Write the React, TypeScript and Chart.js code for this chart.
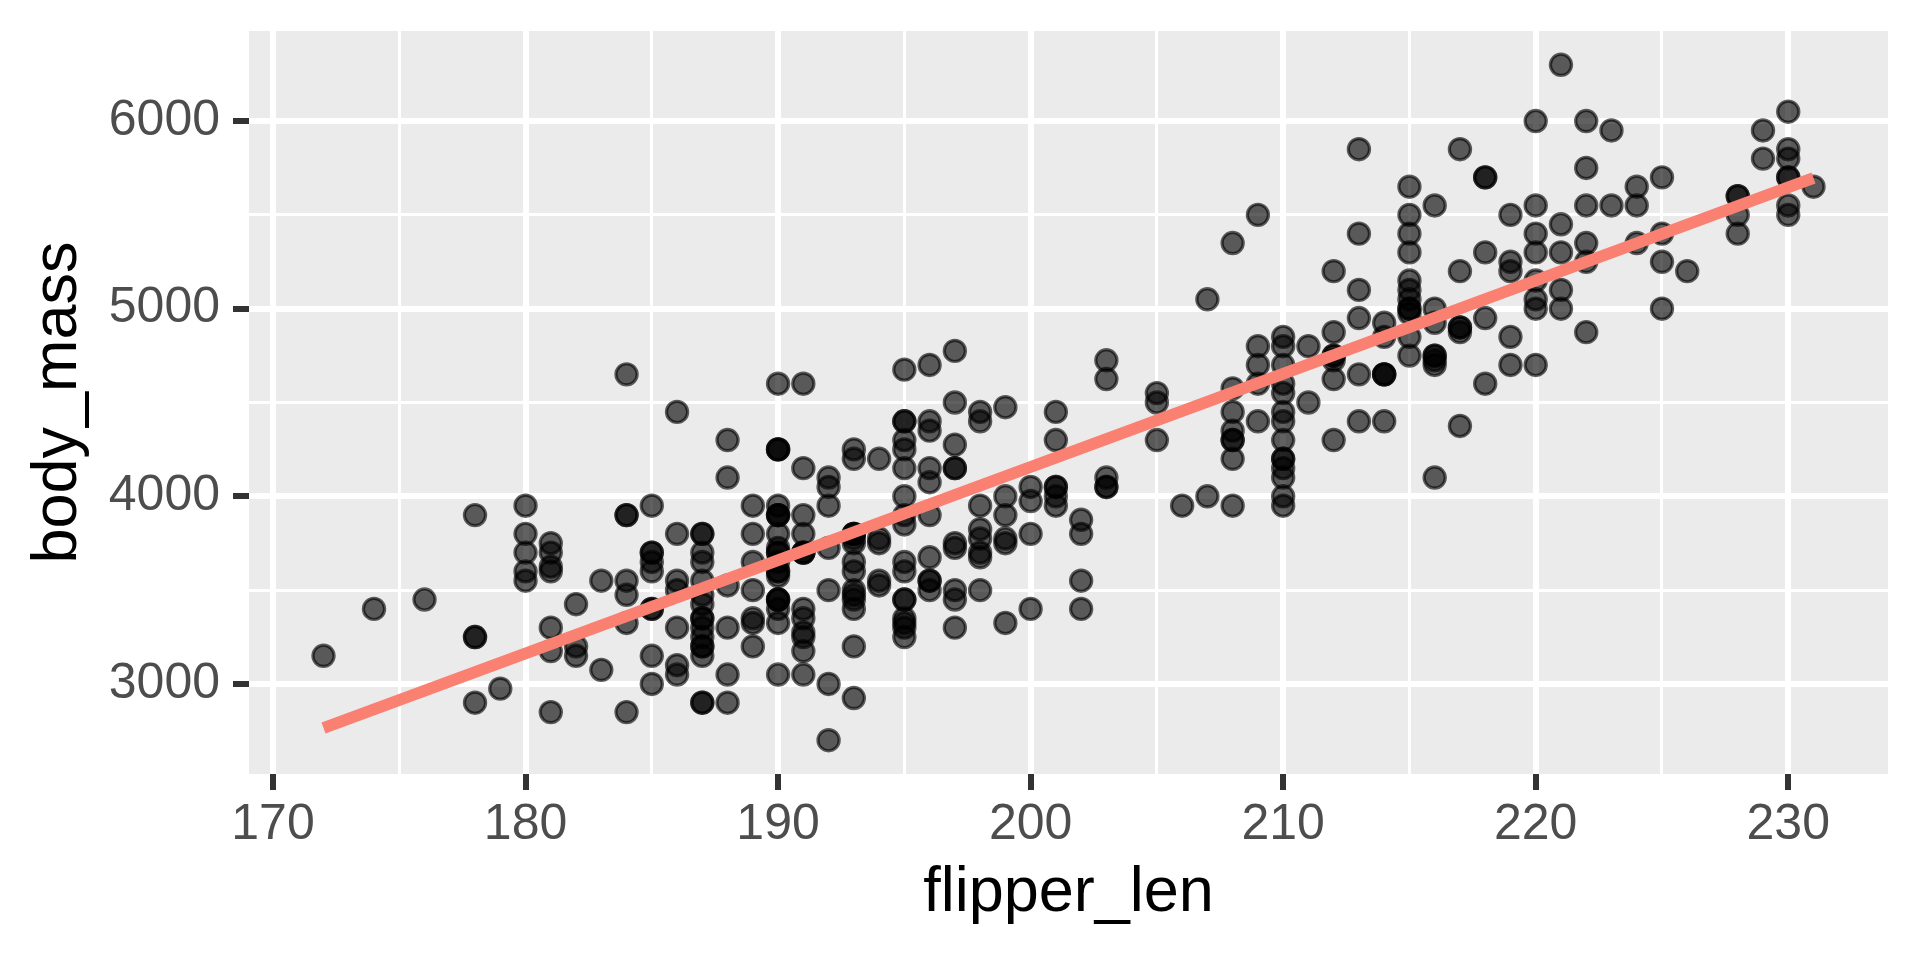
import React, { useEffect, useRef } from "react";
import { Chart, registerables } from "chart.js";

Chart.register(...registerables);

// ---- Data (flipper length in mm, body mass in g) ----
const ADELIE_FLIPPER = [
  181, 186, 195, 193, 190, 181, 195, 193, 190, 186, 180, 182, 191, 198, 185, 195, 197, 184, 194,
  174, 180, 189, 185, 180, 187, 183, 187, 172, 180, 178, 178, 188, 184, 195, 196, 190, 180, 181,
  184, 182, 195, 186, 196, 185, 190, 182, 179, 190, 191, 186, 188, 190, 200, 187, 191, 186, 193,
  181, 194, 185, 195, 185, 192, 184, 192, 195, 188, 190, 198, 190, 190, 196, 197, 190, 195, 191,
  184, 187, 195, 189, 196, 187, 193, 191, 194, 190, 189, 189, 190, 202, 205, 185, 186, 187, 208,
  190, 196, 178, 192, 192, 203, 183, 190, 193, 184, 199, 190, 181, 197, 198, 191, 193, 197, 191,
  196, 188, 199, 189, 189, 187, 198, 176, 202, 186, 199, 191, 195, 191, 210, 190, 197, 193, 199,
  187, 190, 191, 200, 185, 193, 193, 187, 188, 190, 192, 185, 190, 184, 195, 193, 187, 201,
];
const ADELIE_MASS = [
  3750, 3800, 3250, 3450, 3650, 3625, 4675, 3475, 4250, 3300, 3700, 3200, 3800, 4400, 3700, 3450, 4500, 3325, 4200,
  3400, 3600, 3800, 3950, 3800, 3800, 3550, 3200, 3150, 3950, 3250, 3900, 3300, 3900, 3325, 4150, 3950, 3550, 3300,
  4650, 3150, 3900, 3100, 4400, 3000, 4600, 3425, 2975, 3450, 4150, 3500, 4300, 3450, 4050, 2900, 3700, 3550, 3800,
  2850, 3750, 3150, 4400, 3600, 4050, 2850, 3950, 3350, 4100, 3050, 4450, 3600, 3900, 3550, 4150, 3700, 4250, 3700,
  3900, 3550, 4000, 3200, 4700, 3800, 4200, 3350, 3550, 3800, 3500, 3950, 3600, 3550, 4300, 3400, 4450, 3300, 4300,
  3700, 4350, 2900, 4100, 3725, 4725, 3075, 4250, 2925, 3550, 3750, 3900, 3175, 4775, 3825, 4600, 3200, 4275, 3900,
  4075, 2900, 3775, 3350, 3325, 3150, 3500, 3450, 3875, 3050, 4000, 3275, 4300, 3050, 4000, 3325, 3500, 3500, 4475,
  3425, 3900, 3175, 3975, 3400, 4250, 3400, 3475, 3050, 3725, 3000, 3650, 4250, 3475, 3450, 3750, 3700, 4000,
];

const GENTOO_FLIPPER = [
  211, 230, 210, 218, 215, 210, 211, 219, 209, 215, 214, 216, 214, 213, 210, 217, 210, 221, 209, 222,
  218, 215, 213, 215, 215, 215, 216, 215, 210, 220, 222, 209, 207, 230, 220, 220, 213, 219, 208, 208,
  208, 225, 210, 216, 222, 217, 210, 225, 213, 215, 210, 220, 210, 225, 217, 220, 208, 220, 208, 224,
  208, 221, 214, 231, 219, 230, 214, 229, 220, 223, 216, 221, 221, 217, 216, 230, 209, 220, 215, 223,
  212, 221, 212, 224, 212, 228, 218, 218, 212, 230, 218, 228, 212, 224, 214, 226, 216, 222, 203, 225,
  219, 228, 215, 228, 216, 215, 210, 219, 208, 209, 216, 229, 213, 230, 217, 230, 217, 222, 214, 215,
  222, 212, 213,
];
const GENTOO_MASS = [
  4500, 5700, 4450, 5700, 5400, 4550, 4800, 5200, 4400, 5150, 4650, 5550, 4650, 5850, 4200, 5850, 4150, 6300, 4800, 5350,
  5700, 5000, 4400, 5050, 5000, 5100, 4100, 5650, 4600, 5550, 5250, 4700, 5050, 6050, 5150, 5400, 4950, 5250, 4350, 5350,
  3950, 5700, 4300, 4750, 5550, 4900, 4200, 5400, 5100, 5300, 4850, 5300, 4400, 5000, 4900, 5050, 4300, 5000, 4450, 5550,
  4200, 5300, 4400, 5650, 4700, 5700, 4650, 5800, 4700, 5550, 4750, 5000, 5100, 5200, 4700, 5800, 4600, 6000, 4750, 5950,
  4625, 5450, 4725, 5350, 4750, 5600, 4600, 5300, 4875, 5550, 4950, 5400, 4750, 5650, 4850, 5200, 4925, 4875, 4625, 5250,
  4850, 5600, 4975, 5500, 4725, 5500, 4700, 5500, 4575, 5500, 5000, 5950, 4650, 5500, 4375, 5850, 4875, 6000, 4925, 4850,
  5750, 5200, 5400,
];

const CHINSTRAP_FLIPPER = [
  192, 196, 193, 188, 197, 198, 178, 197, 195, 198, 193, 194, 185, 201, 190, 201, 197, 181, 190, 195,
  181, 191, 187, 193, 195, 197, 200, 200, 191, 205, 187, 201, 187, 203, 195, 199, 195, 210, 192, 205,
  210, 187, 196, 196, 196, 201, 190, 212, 187, 198, 199, 201, 193, 203, 187, 197, 191, 203, 202, 194,
  206, 189, 195, 207, 202, 193, 210, 198,
];
const CHINSTRAP_MASS = [
  3500, 3900, 3650, 3525, 3725, 3950, 3250, 3750, 4150, 3700, 3800, 3775, 3700, 4050, 3575, 4050, 3300, 3700, 3450, 4400,
  3600, 3400, 2900, 3800, 3300, 4150, 3400, 3800, 3700, 4550, 3200, 4300, 3350, 4100, 3600, 3900, 3850, 4800, 2700, 4500,
  3950, 3650, 3550, 3500, 3675, 4450, 3400, 4300, 3250, 3675, 3325, 3950, 3600, 4050, 3350, 3450, 3250, 4050, 3800, 3525,
  3950, 3650, 3650, 4000, 3400, 3775, 4100, 3775,
];

// ---- Axis breaks and labels ----
const X_MAJOR = [170, 180, 190, 200, 210, 220, 230];
const X_MINOR = [175, 185, 195, 205, 215, 225];
const Y_MAJOR = [3000, 4000, 5000, 6000];
const Y_MINOR = [3500, 4500, 5500];
const X_TITLE = "flipper_len";
const Y_TITLE = "body_mass";

const FONT = "'Liberation Sans', Arial, Helvetica, sans-serif";

export default function App() {
  const canvasRef = useRef<HTMLCanvasElement | null>(null);

  useEffect(() => {
    const canvas = canvasRef.current;
    if (!canvas) return;

    const xs = [...ADELIE_FLIPPER, ...GENTOO_FLIPPER, ...CHINSTRAP_FLIPPER];
    const ys = [...ADELIE_MASS, ...GENTOO_MASS, ...CHINSTRAP_MASS];
    const points = xs.map((x, i) => ({ x, y: ys[i] }));

    // Least-squares fit (geom_smooth(method = "lm"))
    const n = xs.length;
    const mx = xs.reduce((a, b) => a + b, 0) / n;
    const my = ys.reduce((a, b) => a + b, 0) / n;
    let sxy = 0;
    let sxx = 0;
    for (let i = 0; i < n; i++) {
      sxy += (xs[i] - mx) * (ys[i] - my);
      sxx += (xs[i] - mx) * (xs[i] - mx);
    }
    const slope = sxy / sxx;
    const intercept = my - slope * mx;
    const xLo = Math.min(...xs);
    const xHi = Math.max(...xs);
    const yLo = Math.min(...ys);
    const yHi = Math.max(...ys);
    const fit = [
      { x: xLo, y: intercept + slope * xLo },
      { x: xHi, y: intercept + slope * xHi },
    ];

    // ggplot default 5% expansion
    const xPad = (xHi - xLo) * 0.05;
    const yPad = (yHi - yLo) * 0.05;

    const panelBg = {
      id: "panelBg",
      beforeDraw(chart: any) {
        const { ctx, chartArea } = chart;
        ctx.save();
        ctx.fillStyle = "#EBEBEB";
        ctx.fillRect(chartArea.left, chartArea.top, chartArea.right - chartArea.left, chartArea.bottom - chartArea.top);
        ctx.restore();
      },
    };

    const isMajorX = (v: number) => X_MAJOR.includes(v);
    const isMajorY = (v: number) => Y_MAJOR.includes(v);

    const chart = new Chart(canvas, {
      type: "scatter",
      data: {
        datasets: [
          {
            type: "line",
            data: fit,
            borderColor: "#FA8072",
            borderWidth: 11.5,
            borderCapStyle: "butt",
            pointRadius: 0,
            fill: false,
            order: 1,
          } as any,
          {
            type: "scatter",
            data: points,
            backgroundColor: "rgba(0,0,0,0.62)",
            borderColor: "rgba(0,0,0,0.62)",
            borderWidth: 3.2,
            pointRadius: 10.6,
            pointHoverRadius: 10.6,
            order: 2,
          } as any,
        ],
      },
      options: {
        animation: false,
        responsive: false,
        devicePixelRatio: 1,
        events: [],
        layout: { padding: { top: 31, right: 32, bottom: 0, left: 0 } },
        plugins: { legend: { display: false }, tooltip: { enabled: false } },
        scales: {
          x: {
            type: "linear",
            min: xLo - xPad,
            max: xHi + xPad,
            afterBuildTicks: (s: any) => {
              s.ticks = [...X_MAJOR, ...X_MINOR].sort((a, b) => a - b).map((value) => ({ value }));
            },
            afterFit: (s: any) => {
              s.height = 186;
            },
            border: { display: false },
            grid: {
              color: "#FFFFFF",
              lineWidth: (c: any) => (isMajorX(c.tick?.value) ? 6 : 3),
              drawTicks: true,
              tickLength: 16,
              tickWidth: 6,
              tickColor: (c: any) => (isMajorX(c.tick?.value) ? "#333333" : "rgba(0,0,0,0)"),
            },
            ticks: {
              autoSkip: false,
              maxRotation: 0,
              minRotation: 0,
              padding: 5,
              color: "#4D4D4D",
              font: { family: FONT, size: 50, lineHeight: 1.2 },
              callback: (v: any) => (isMajorX(Number(v)) ? String(v) : ""),
            },
            title: {
              display: true,
              text: X_TITLE,
              color: "#000000",
              font: { family: FONT, size: 63, lineHeight: 1 },
              padding: { top: 0, bottom: 35 },
            },
          },
          y: {
            type: "linear",
            min: yLo - yPad,
            max: yHi + yPad,
            afterBuildTicks: (s: any) => {
              s.ticks = [...Y_MAJOR, ...Y_MINOR].sort((a, b) => a - b).map((value) => ({ value }));
            },
            afterFit: (s: any) => {
              s.width = 249;
            },
            border: { display: false },
            grid: {
              color: "#FFFFFF",
              lineWidth: (c: any) => (isMajorY(c.tick?.value) ? 6 : 3),
              drawTicks: true,
              tickLength: 16,
              tickWidth: 6,
              tickColor: (c: any) => (isMajorY(c.tick?.value) ? "#333333" : "rgba(0,0,0,0)"),
            },
            ticks: {
              autoSkip: false,
              padding: 13,
              color: "#4D4D4D",
              font: { family: FONT, size: 50, lineHeight: 0.7 },
              callback: (v: any) => (isMajorY(Number(v)) ? String(v) : ""),
            },
            title: {
              display: true,
              text: Y_TITLE,
              color: "#000000",
              font: { family: FONT, size: 63, lineHeight: 1 },
              padding: { top: 27, bottom: 0 },
            },
          },
        },
      },
      plugins: [panelBg],
    } as any);

    return () => {
      chart.destroy();
    };
  }, []);

  return (
    <div style={{ position: "fixed", left: 0, top: 0, width: 1920, height: 960, background: "#FFFFFF" }}>
      <canvas ref={canvasRef} width={1920} height={960} style={{ width: 1920, height: 960, display: "block" }} />
    </div>
  );
}
